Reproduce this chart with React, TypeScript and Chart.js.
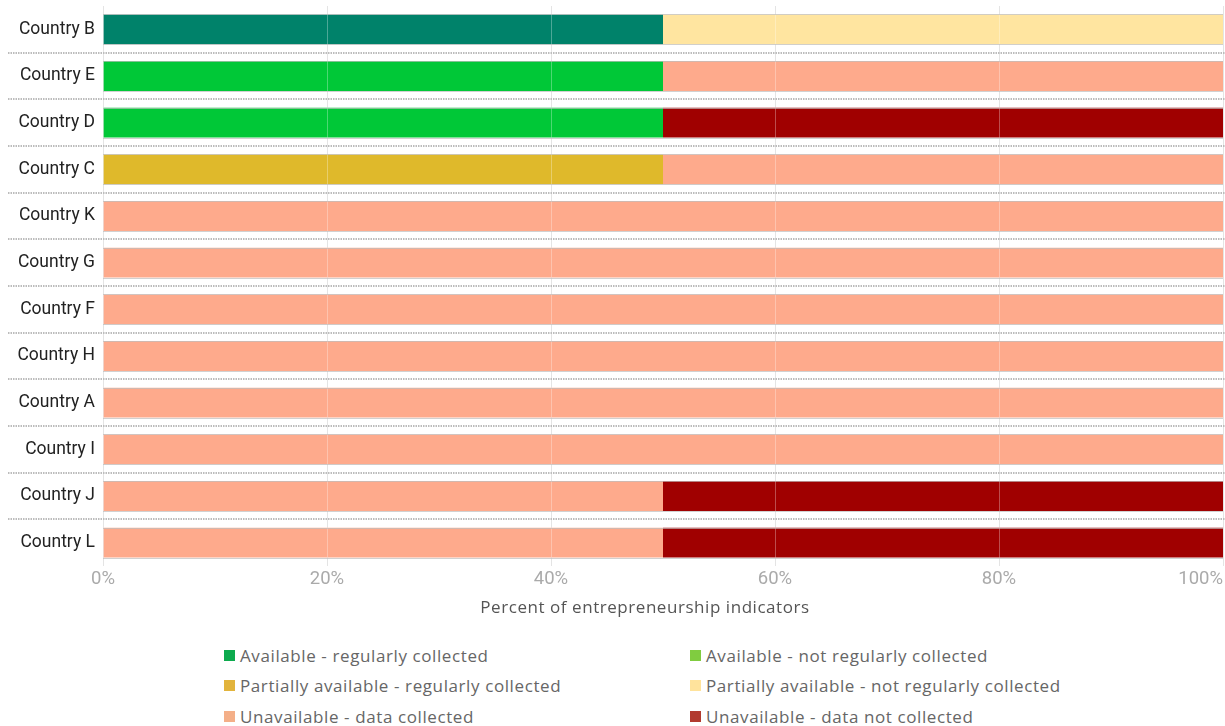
import React, { useEffect, useRef } from "react";
import { Chart, registerables } from "chart.js";

Chart.register(...registerables);

const countries = [
  "Country B", "Country E", "Country D", "Country C", "Country K", "Country G",
  "Country F", "Country H", "Country A", "Country I", "Country J", "Country L",
];

const seriesNames = [
  "Available - regularly collected",
  "Available - not regularly collected",
  "Partially available - regularly collected",
  "Partially available - not regularly collected",
  "Unavailable - data collected",
  "Unavailable - data not collected",
];

const availableRegular = [50, 50, 50, 0, 0, 0, 0, 0, 0, 0, 0, 0];
const availableNotRegular = [0, 0, 0, 0, 0, 0, 0, 0, 0, 0, 0, 0];
const partialRegular = [0, 0, 0, 50, 0, 0, 0, 0, 0, 0, 0, 0];
const partialNotRegular = [50, 0, 0, 0, 0, 0, 0, 0, 0, 0, 0, 0];
const unavailableCollected = [0, 50, 0, 50, 100, 100, 100, 100, 100, 100, 50, 50];
const unavailableNotCollected = [0, 0, 50, 0, 0, 0, 0, 0, 0, 0, 50, 50];

const xTickValues = [0, 20, 40, 60, 80, 100];
const xTickLabels = ["0%", "20%", "40%", "60%", "80%", "100%"];
const xAxisTitle = "Percent of entrepreneurship indicators";

const barColors = ["#00C837", "#86D04A", "#DFB92B", "#FFE5A0", "#FEAA8C", "#A00000"];
const highlightColor = "#00826A";
const legendColors = ["#0DAA4E", "#80CC40", "#E2B43C", "#FFE39C", "#F4AF88", "#B23A2F"];

const seriesValues = [
  availableRegular, availableNotRegular, partialRegular,
  partialNotRegular, unavailableCollected, unavailableNotCollected,
];

const overlayPlugin = {
  id: "overlay",
  afterDatasetsDraw(chart: any) {
    const ctx = chart.ctx;
    const area = chart.chartArea;
    const xs = chart.scales.x;
    const ys = chart.scales.y;
    ctx.save();
    ctx.strokeStyle = "rgba(255,255,255,0.3)";
    ctx.lineWidth = 1;
    xTickValues.forEach((v) => {
      const px = Math.round(xs.getPixelForValue(v)) + 0.5;
      ctx.beginPath();
      ctx.moveTo(px, area.top);
      ctx.lineTo(px, area.bottom);
      ctx.stroke();
    });
    const n = countries.length;
    const pitch = (area.bottom - area.top) / n;
    const thick = pitch * 0.64;
    ctx.strokeStyle = "rgba(190,190,190,0.7)";
    ctx.lineWidth = 1;
    for (let j = 0; j < n; j++) {
      const cy = ys.getPixelForValue(j);
      [cy - thick / 2, cy + thick / 2].forEach((yy) => {
        const py = Math.round(yy) + 0.5;
        ctx.beginPath();
        ctx.moveTo(area.left, py);
        ctx.lineTo(area.right, py);
        ctx.stroke();
      });
    }
    ctx.strokeStyle = "#bcbcbc";
    ctx.lineWidth = 2;
    ctx.setLineDash([1.5, 1]);
    for (let j = 0; j < n - 1; j++) {
      const yy = (ys.getPixelForValue(j) + ys.getPixelForValue(j + 1)) / 2;
      const py = Math.round(yy);
      ctx.beginPath();
      ctx.moveTo(8, py);
      ctx.lineTo(chart.width, py);
      ctx.stroke();
    }
    ctx.setLineDash([]);
    ctx.fillStyle = "#aaaaaa";
    ctx.font = "18.5px Roboto";
    ctx.textBaseline = "middle";
    xTickValues.forEach((v, i) => {
      const last = i === xTickValues.length - 1;
      const px = xs.getPixelForValue(v);
      ctx.textAlign = last ? "right" : "center";
      ctx.fillText(xTickLabels[i], last ? area.right : px, area.bottom + 13);
    });
    ctx.fillStyle = "#555555";
    ctx.font = "17px 'Open Sans'";
    (ctx as any).letterSpacing = "0.55px";
    ctx.textAlign = "center";
    ctx.fillText(xAxisTitle, (area.left + area.right) / 2 - 18, area.bottom + 42);
    ctx.restore();
  },
};

export default function App() {
  const ref = useRef<HTMLCanvasElement>(null);
  useEffect(() => {
    if (!ref.current) return;
    const datasets = seriesValues.map((vals, i) => ({
      label: seriesNames[i],
      data: vals,
      backgroundColor:
        i === 0
          ? countries.map((c) => (c === "Country B" ? highlightColor : barColors[0]))
          : barColors[i],
      borderWidth: 0,
      categoryPercentage: 1,
      barPercentage: 0.64,
    }));
    const chart = new Chart(ref.current, {
      type: "bar",
      data: { labels: countries, datasets },
      options: {
        indexAxis: "y",
        animation: false,
        responsive: false,
        maintainAspectRatio: false,
        layout: { autoPadding: false, padding: { top: 6, right: 2, left: 0, bottom: 0 } },
        plugins: { legend: { display: false }, tooltip: { enabled: false } },
        scales: {
          x: {
            stacked: true,
            min: 0,
            max: 100,
            afterBuildTicks: (scale: any) => {
              scale.ticks = xTickValues.map((v) => ({ value: v }));
            },
            afterFit: (scale: any) => {
              scale.height = 630 - 566;
              scale.paddingLeft = 0;
              scale.paddingRight = 0;
            },
            ticks: { display: false },
            grid: { color: "#d9d9d9", drawTicks: false, lineWidth: 1 },
            border: { display: false },
          },
          y: {
            stacked: true,
            afterFit: (scale: any) => {
              scale.width = 103;
              scale.paddingTop = 0;
              scale.paddingBottom = 0;
            },
            ticks: {
              color: "#222222",
              font: { family: "Roboto", size: 17.5 },
              padding: 8,
            },
            grid: { display: false, drawTicks: false },
            border: { display: false },
          },
        },
      },
      plugins: [overlayPlugin],
    });
    return () => chart.destroy();
  }, []);

  const legendRows = [
    [0, 1],
    [2, 3],
    [4, 5],
  ];
  return (
    <div style={{ position: "fixed", left: 0, top: 0, width: 1225, height: 726, background: "#fff", overflow: "hidden" }}>
      <canvas ref={ref} width={1225} height={630} style={{ display: "block" }} />
      {legendRows.map((row, r) =>
        row.map((idx, c) => (
          <div
            key={idx}
            style={{
              position: "absolute",
              left: c === 0 ? 224 : 690,
              top: 655 + r * 30.5 - 11,
              height: 22,
              display: "flex",
              alignItems: "center",
              fontFamily: "'Open Sans'",
              fontSize: 17,
              letterSpacing: "0.6px",
              color: "#666666",
              whiteSpace: "nowrap",
            }}
          >
            <span style={{ display: "inline-block", width: 11, height: 11, background: legendColors[idx], marginRight: 5 }} />
            {seriesNames[idx]}
          </div>
        ))
      )}
    </div>
  );
}
